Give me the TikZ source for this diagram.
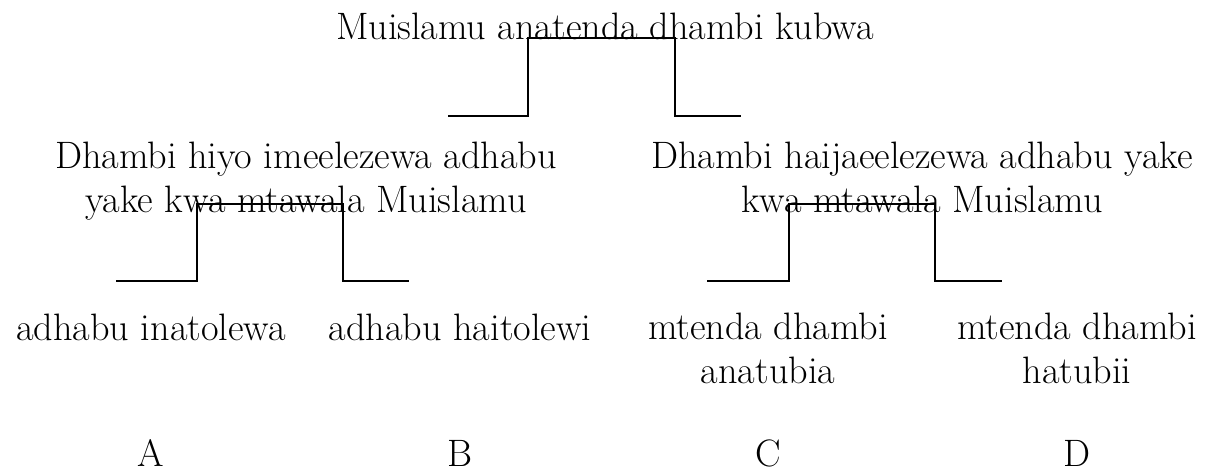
\documentclass[tikz,border=0pt]{standalone}
\usepackage{xcolor}
\usepackage{tikz}
\usetikzlibrary{positioning}

\begin{document}
\begin{tikzpicture}[x=1pt,y=-1pt,
    txt/.style={anchor=base,align=center,inner sep=0pt,font=\fontsize{38.2}{44}\selectfont},
    bracket/.style={line width=1.3pt}]
    	\useasboundingbox (0,0) rectangle (1207,472);
    	\node[txt] (0) at (605,39) {Muislamu anatenda dhambi kubwa};
    	\node[txt] (1) at (306,212) {Dhambi hiyo imeelezewa adhabu\\yake kwa mtawala Muislamu};
    	\node[txt] (2) at (922,212) {Dhambi haijaeelezewa adhabu yake\\kwa mtawala Muislamu};
    	\node[txt] (3) at (151,340) {adhabu inatolewa};
    	\node[txt] (4) at (460,340) {adhabu haitolewi};
    	\node[txt] (5) at (768,383) {mtenda dhambi\\anatubia};
    	\node[txt] (6) at (1077,383) {mtenda dhambi\\hatubii};
    	\node[txt] (A) at (151,466) {A};
    	\node[txt] (B) at (460,466) {B};
    	\node[txt] (C) at (768,466) {C};
    	\node[txt] (D) at (1077,466) {D};
    	% ends of the three brackets
    	\coordinate (0sl) at (448,116);  \coordinate (0hl) at (528,38);
    	\coordinate (0vr) at (675,116);  \coordinate (0sr) at (741,116);
    	\coordinate (1sl) at (116,281);  \coordinate (1hl) at (197,204);
    	\coordinate (1vr) at (343,281);  \coordinate (1sr) at (409,281);
    	\coordinate (2sl) at (707,281);  \coordinate (2hl) at (789,204);
    	\coordinate (2vr) at (935,281);  \coordinate (2sr) at (1002,281);
    	\draw[bracket] (0sl) -| (0hl) -| (0vr) -- (0sr);
    	\draw[bracket] (1sl) -| (1hl) -| (1vr) -- (1sr);
    	\draw[bracket] (2sl) -| (2hl) -| (2vr) -- (2sr);
    \end{tikzpicture}
\end{document}
